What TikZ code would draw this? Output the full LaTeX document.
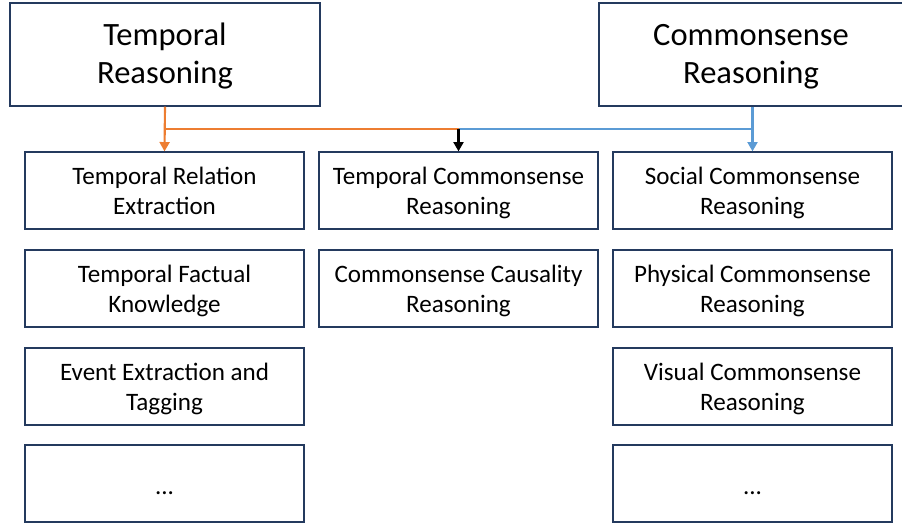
\documentclass[tikz,border=0pt]{standalone}
\usepackage{fontspec}
\setmainfont{Carlito}
\usetikzlibrary{arrows.meta}
\definecolor{boxline}{HTML}{243A5E}
\definecolor{orangeline}{HTML}{ED7D31}
\definecolor{blueline}{HTML}{5B9BD5}
\begin{document}
\begin{tikzpicture}[x=0.75pt,y=-0.75pt,
  topbox/.style={draw=boxline,line width=1.2pt,minimum width=232.5pt,minimum height=77pt,inner sep=0pt,align=center,font=\fontsize{24.4}{28.5}\selectfont,text height=49.5pt,text depth=6pt},
  subbox/.style={draw=boxline,line width=1.2pt,minimum width=209pt,minimum height=57.5pt,inner sep=0pt,align=center,font=\fontsize{18.8}{22.5}\selectfont,text height=39.6pt,text depth=4pt},
  dotbox/.style={subbox,text height=18pt,text depth=2pt},
  link/.style={line width=1.6pt},
  arr/.style={link,-{Triangle[length=7pt,width=7.5pt]}}]
\useasboundingbox (0,0) rectangle (902,524);
\node[topbox] (tr) at (165,54.5) {Temporal\\Reasoning};
\node[topbox,minimum width=228pt] (cr) at (751,54.5) {Commonsense\\Reasoning};
\node[subbox] (a1) at (164.5,190.5) {Temporal Relation\\Extraction};
\node[subbox] (a2) at (164.5,288.5) {Temporal Factual\\Knowledge};
\node[subbox] (a3) at (164.5,386.5) {Event Extraction and\\Tagging};
\node[dotbox] (a4) at (164.5,483.5) {...};
\node[subbox] (b1) at (458.5,190.5) {Temporal Commonsense\\Reasoning};
\node[subbox] (b2) at (458.5,288.5) {Commonsense Causality\\Reasoning};
\node[subbox] (c1) at (752.5,190.5) {Social Commonsense\\Reasoning};
\node[subbox] (c2) at (752.5,288.5) {Physical Commonsense\\Reasoning};
\node[subbox] (c3) at (752.5,386.5) {Visual Commonsense\\Reasoning};
\node[dotbox] (c4) at (752.5,483.5) {...};
\coordinate (j) at (458.5,129);
\draw[arr,orangeline] (tr.south) -- (a1.north);
\draw[link,orangeline] (tr.south |- j) -- (j);
\draw[link,blueline] (j) -- (c1.north |- j);
\draw[arr,blueline] (c1.north |- cr.south) -- (c1.north);
\draw[arr,black] (j) -- (b1.north);
\end{tikzpicture}
\end{document}
